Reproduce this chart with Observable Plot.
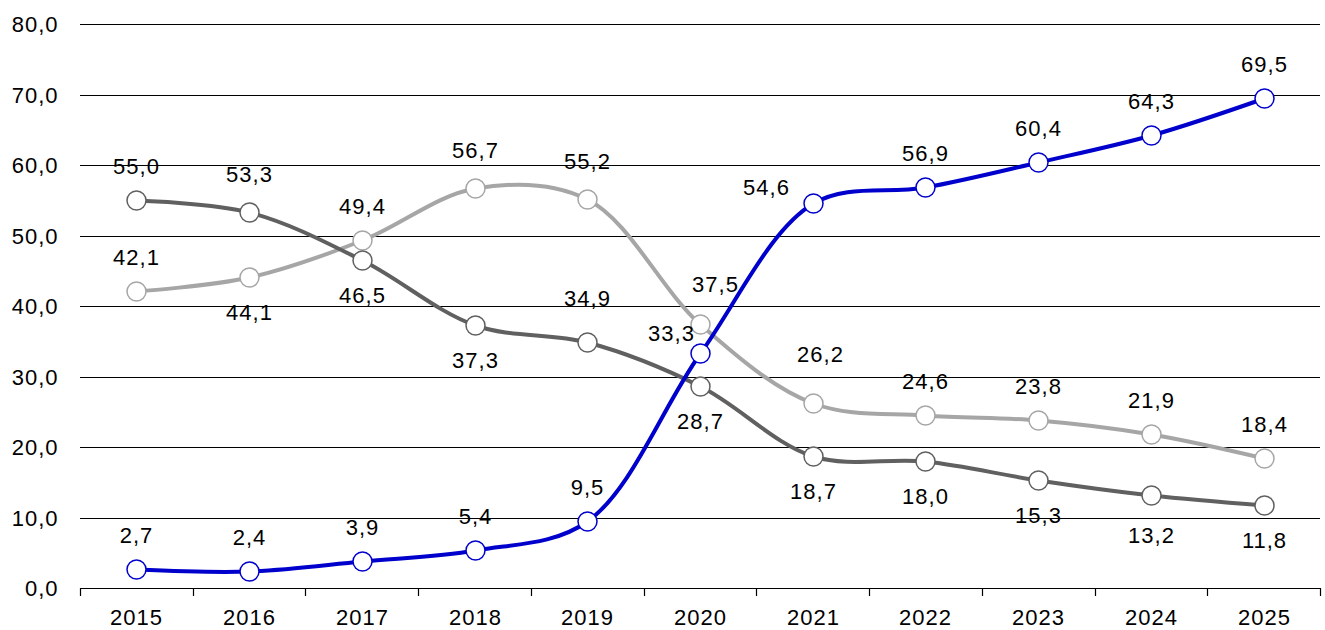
<!DOCTYPE html>
<html>
<head>
<meta charset="utf-8">
<script src="https://cdn.jsdelivr.net/npm/d3@7"></script>
<script src="https://cdn.jsdelivr.net/npm/@observablehq/plot@0.6"></script>
<style>
  html, body { margin: 0; padding: 0; background: #fff; }
  #chart { width: 1325px; height: 630px; }
</style>
</head>
<body>
<div id="chart"></div>
<script>
// ---- data ----
const years = [2015, 2016, 2017, 2018, 2019, 2020, 2021, 2022, 2023, 2024, 2025];
const blueSeries  = [2.7, 2.4, 3.9, 5.4, 9.5, 33.3, 54.6, 56.9, 60.4, 64.3, 69.5];
const darkSeries  = [55.0, 53.3, 46.5, 37.3, 34.9, 28.7, 18.7, 18.0, 15.3, 13.2, 11.8];
const lightSeries = [42.1, 44.1, 49.4, 56.7, 55.2, 37.5, 26.2, 24.6, 23.8, 21.9, 18.4];
const yTicks = [0, 10, 20, 30, 40, 50, 60, 70, 80];
// label placement codes (relative to each point)
const bluePlace  = ["n", "n", "n", "n", "n", "w", "nw", "n", "n", "n", "n"];
const darkPlace  = ["n", "n2", "s", "s", "nn", "s", "s", "s", "s", "s2", "s"];
const lightPlace = ["n", "s", "n", "n2", "n2", "ne", "ne2", "n", "n", "n", "n"];
// labels drawn without a white background box
const blueUnboxed = [2016, 2017, 2024];
const darkUnboxed = [2017, 2023];
const lightUnboxed = [2023];

const seriesNames = ["light", "dark", "blue"];
const seriesColors = ["#a6a6a6", "#606060", "#0000cc"];

const rows = [];
const sets = {
  light: [lightSeries, lightPlace, lightUnboxed],
  dark: [darkSeries, darkPlace, darkUnboxed],
  blue: [blueSeries, bluePlace, blueUnboxed]
};
for (const name of seriesNames) {
  const [vals, places, unboxed] = sets[name];
  years.forEach((yr, i) => rows.push({series: name, year: yr, value: vals[i], place: places[i], boxed: !unboxed.includes(yr)}));
}

const offsets = {
  n: [0, -34], n2: [0, -38], nn: [0, -44],
  s: [0, 35], s2: [0, 40],
  w: [-29, -20], nw: [-47, -16],
  ne: [15, -40], ne2: [7, -49]
};

const fmt = d => d.toFixed(1).replace(".", ",");
const font = "'Liberation Sans', Arial, sans-serif";
const fs = 22;

const boundaries = d3.range(years[0] - 0.5, years[years.length - 1] + 1, 1);

const labelMarks = [];
for (const boxed of [true, false]) {
  for (const [k, [dx, dy]] of Object.entries(offsets)) {
    labelMarks.push(Plot.text(rows, {
      filter: d => d.place === k && d.boxed === boxed,
      x: "year", y: "value", text: d => fmt(d.value),
      dx, dy, fontSize: fs, fill: "#000",
      ariaLabel: boxed ? "boxed-label" : "plain-label"
    }));
  }
}

const chart = Plot.plot({
  width: 1325,
  height: 630,
  marginLeft: 80,
  marginRight: 5,
  marginTop: 24,
  marginBottom: 42,
  style: {fontFamily: font, fontSize: fs + "px", color: "#000", background: "#fff", letterSpacing: "1px"},
  x: {domain: [years[0] - 0.5, years[years.length - 1] + 0.5], round: true},
  y: {domain: [0, 80], round: true},
  color: {domain: seriesNames, range: seriesColors},
  marks: [
    Plot.ruleY(yTicks, {stroke: "#000", strokeWidth: 1}),
    Plot.axisY(yTicks, {tickSize: 0, tickPadding: 22, tickFormat: fmt, fontSize: fs, label: null}),
    Plot.axisX(boundaries, {tickSize: 8, tickFormat: () => "", label: null, stroke: "#000", strokeWidth: 1.2}),
    Plot.axisX(years, {tickSize: 0, tickPadding: 21, tickFormat: d => String(d), fontSize: fs, label: null}),
    Plot.line(rows, {x: "year", y: "value", z: "series", stroke: "series", strokeWidth: 4, curve: "catmull-rom"}),
    Plot.dot(rows, {x: "year", y: "value", stroke: "series", fill: "#fff", r: 9.5, strokeWidth: 1.5}),
    ...labelMarks
  ]
});
document.getElementById("chart").appendChild(chart);

// white background boxes behind boxed labels, sized from each label's own text box
const svgns = "http://www.w3.org/2000/svg";
chart.querySelectorAll('g[aria-label="boxed-label"] text').forEach(t => {
  const b = t.getBBox();
  const r = document.createElementNS(svgns, "rect");
  const padX = 4, padTop = 7, padBottom = 6;
  r.setAttribute("x", b.x - padX);
  r.setAttribute("y", b.y - padTop);
  r.setAttribute("width", b.width + 2 * padX);
  r.setAttribute("height", b.height + padTop + padBottom);
  r.setAttribute("fill", "#fff");
  r.setAttribute("stroke", "none");
  const tr = t.getAttribute("transform");
  if (tr) r.setAttribute("transform", tr);
  t.parentNode.insertBefore(r, t);
});
</script>
</body>
</html>
